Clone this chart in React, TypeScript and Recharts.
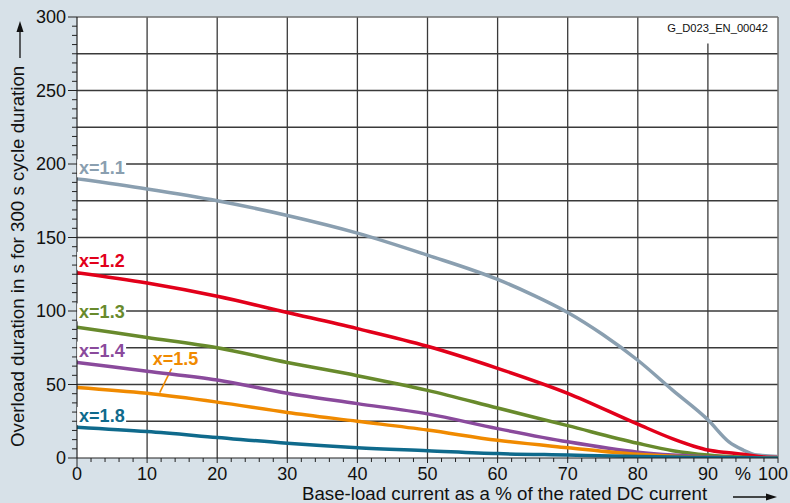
import React from 'react'
import {
  LineChart, Line, XAxis, YAxis, CartesianGrid, ReferenceLine, ReferenceDot,
} from 'recharts'

// x = base-load current in % of rated DC current
// y = overload duration in s (300 s cycle)
const x11 = [0, 10, 20, 30, 40, 50, 60, 65, 70, 75, 80, 85, 90, 93, 95, 97, 100]
const y11 = [190, 183, 175, 165, 153, 138, 121.5, 111, 99, 84, 66.5, 46, 26, 11, 5.5, 2, 1]

const x12 = [0, 10, 20, 30, 40, 50, 60, 70, 80, 85, 88, 90, 93, 95, 98, 100]
const y12 = [126, 119, 110, 99, 88, 76, 61, 44, 23, 13, 8, 5.4, 3.5, 2.5, 0.6, 0.3]

const x13 = [0, 10, 20, 30, 40, 50, 60, 70, 80, 85, 90, 95, 100]
const y13 = [89, 82, 75, 65, 56, 46, 34, 22, 10, 5, 2, 0.5, 0]

const x14 = [0, 10, 20, 30, 40, 50, 60, 70, 80, 85, 90, 95, 100]
const y14 = [65, 59, 53, 44, 37, 30, 20, 11, 4, 2, 0.7, 0.2, 0]

const x15 = [0, 10, 20, 30, 40, 50, 60, 70, 80, 85, 90, 100]
const y15 = [48, 44, 38, 31, 25, 19, 12, 7, 2.5, 1.2, 0.4, 0]

const x18 = [0, 10, 20, 30, 40, 50, 60, 70, 80, 90, 100]
const y18 = [21, 18, 14, 10, 7, 5, 3, 2, 1, 0.4, 0]

const xMajor = [0, 10, 20, 30, 40, 50, 60, 70, 80, 90, 100]
const yMajor = [0, 50, 100, 150, 200, 250, 300]
const xMinor = Array.from({ length: 51 }, (_, i) => i * 2)
const yMinor = Array.from({ length: 49 }, (_, i) => i * 6.25)
const xTicks = [...xMinor, 95].sort((a, b) => a - b)

const gridX = [10, 20, 30, 40, 50, 60, 70, 80]
const gridY = [25, 50, 75, 100, 125, 150, 175, 200, 225, 250, 275]

const curves = [
  { name: 'x=1.1', xs: x11, ys: y11, color: '#8a9fb0', lx: 0.3, ly: 193 },
  { name: 'x=1.2', xs: x12, ys: y12, color: '#e2001a', lx: 0.3, ly: 130 },
  { name: 'x=1.3', xs: x13, ys: y13, color: '#688a2c', lx: 0.3, ly: 95 },
  { name: 'x=1.4', xs: x14, ys: y14, color: '#8a4a9c', lx: 0.3, ly: 69 },
  { name: 'x=1.5', xs: x15, ys: y15, color: '#f08a00', lx: 10.8, ly: 63 },
  { name: 'x=1.8', xs: x18, ys: y18, color: '#0f6a8c', lx: 0.3, ly: 24.5 },
]

const FONT = '"Liberation Sans", Arial, Helvetica, sans-serif'
const BG = '#d7e1e8'

function YTick({ x, y, payload }: any) {
  const v = payload.value
  const major = yMajor.includes(v)
  return (
    <g>
      <line x1={x} x2={x - (major ? 9 : 5)} y1={y} y2={y} stroke="#222" strokeWidth={1} />
      {major && (
        <text x={x - 11} y={y} dy="0.36em" textAnchor="end" fontSize={18} fill="#111" fontFamily={FONT}>
          {v}
        </text>
      )}
    </g>
  )
}

function XTick({ x, y, payload }: any) {
  const v = payload.value
  if (v === 95) {
    return (
      <text x={x} y={y + 22} textAnchor="middle" fontSize={18} fill="#111" fontFamily={FONT}>%</text>
    )
  }
  const major = xMajor.includes(v)
  // the last label sits a bit inside so it isn't clipped
  const lx = v === 100 ? x - 5 : x
  return (
    <g>
      <line x1={x} x2={x} y1={y} y2={y + (v === 0 ? 9 : major ? 5 : 4)} stroke="#222" strokeWidth={1} />
      {major && (
        <text x={lx} y={y + 22} textAnchor="middle" fontSize={18} fill="#111" fontFamily={FONT}>
          {v}
        </text>
      )}
    </g>
  )
}

function CurveLabel({ cx, cy, text, color }: any) {
  return (
    <g>
      <rect x={cx - 2} y={cy - 15} width={text.length * 9.4 + 2} height={18} fill="#fff" />
      <text x={cx} y={cy} fontSize={18} fontWeight="bold" fill={color} fontFamily={FONT}>{text}</text>
    </g>
  )
}

export default function App() {
  return (
    <div style={{ position: 'absolute', left: 0, top: 0, width: 790, height: 503, background: BG, fontFamily: FONT }}>
      <LineChart width={790} height={503} margin={{ top: 17, right: 12, bottom: 0, left: 0 }}>
        <CartesianGrid fill="#fff" fillOpacity={1} horizontal={false} vertical={false} />
        <XAxis
          type="number"
          dataKey="x"
          domain={[0, 100]}
          ticks={xTicks}
          interval={0}
          height={45}
          tickSize={0}
          tickMargin={0}
          tickLine={false}
          tick={<XTick />}
          axisLine={{ stroke: '#222', strokeWidth: 1.2 }}
          allowDataOverflow
        />
        <YAxis
          type="number"
          domain={[0, 300]}
          ticks={yMinor}
          interval={0}
          width={77}
          tickSize={0}
          tickMargin={0}
          tickLine={false}
          tick={<YTick />}
          axisLine={{ stroke: '#222', strokeWidth: 1.2 }}
          allowDataOverflow
        />
        {gridX.map((v) => (
          <ReferenceLine key={'gx' + v} x={v} stroke="#3a3a3a" strokeWidth={1.3} />
        ))}
        <ReferenceLine segment={[{ x: 90, y: 0 }, { x: 90, y: 282 }]} stroke="#3a3a3a" strokeWidth={1.3} />
        {gridY.map((v) => (
          <ReferenceLine key={'gy' + v} y={v} stroke="#3a3a3a" strokeWidth={1.3} />
        ))}
        <ReferenceLine y={300} stroke="#6f6f6f" strokeWidth={1.5} />
        <ReferenceLine x={100} stroke="#6f6f6f" strokeWidth={1.5} />
        <ReferenceDot
          x={100}
          y={300}
          r={0}
          shape={(p: any) => (
            <text x={p.cx - 10} y={p.cy + 15} textAnchor="end" fontSize={11.2} fill="#111" fontFamily={FONT}>
              G_D023_EN_00042
            </text>
          )}
        />
        {curves.map((c) => (
          <ReferenceDot
            key={'lab' + c.name}
            x={c.lx}
            y={c.ly}
            r={0}
            shape={(p: any) => <CurveLabel cx={p.cx} cy={p.cy} text={c.name} color={c.color} />}
          />
        ))}
        <ReferenceLine
          segment={[{ x: 13.5, y: 61 }, { x: 11.8, y: 44.5 }]}
          stroke="#f08a00"
          strokeWidth={1.6}
        />
        {curves.map((c) => (
          <Line
            key={c.name}
            data={c.xs.map((x, i) => ({ x, y: c.ys[i] }))}
            dataKey="y"
            type="monotone"
            stroke={c.color}
            strokeWidth={3.5}
            dot={false}
            activeDot={false}
            isAnimationActive={false}
          />
        ))}
      </LineChart>
      <svg width={790} height={503} style={{ position: 'absolute', left: 0, top: 0, pointerEvents: 'none' }}>
        <text
          x={24}
          y={447}
          transform="rotate(-90, 24, 447)"
          fontSize={18.7}
          fill="#111"
          fontFamily={FONT}
        >
          Overload duration in s for 300 s cycle duration
        </text>
        <line x1={20} y1={58} x2={20} y2={30} stroke="#111" strokeWidth={1.3} />
        <path d="M20,21 L16.5,32 L23.5,32 Z" fill="#111" />
        <text x={302} y={500} fontSize={18.7} fill="#111" fontFamily={FONT}>
          Base-load current as a % of the rated DC current
        </text>
        <line x1={733} y1={497} x2={768} y2={497} stroke="#111" strokeWidth={1.3} />
        <path d="M777,497 L766,493.5 L766,500.5 Z" fill="#111" />
      </svg>
    </div>
  )
}
